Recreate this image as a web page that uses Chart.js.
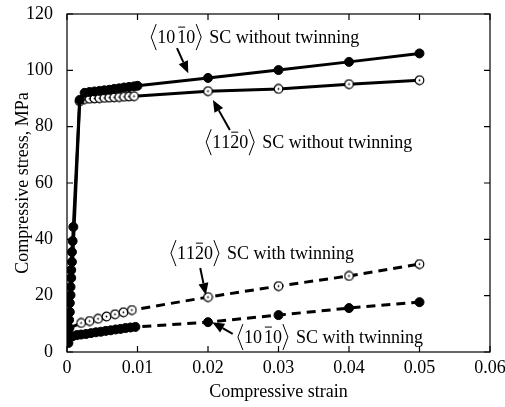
<!DOCTYPE html>
<html>
<head>
<meta charset="utf-8">
<script src="https://cdn.jsdelivr.net/npm/chart.js"></script>
<style>body{margin:0;background:#fff}</style>
</head>
<body>
<canvas id="stressChart" width="505" height="407"></canvas>
<script>
// <10-10> single crystal without twinning (filled circles)
let strainA = [0.0002,0.0002,0.0003,0.0003,0.0004,0.0004,0.0005,0.0005,0.0006,0.0006,0.0007,0.0007,0.0008,0.0009,
  0.0018,0.0025,0.0032,0.0039,0.0046,0.0053,0.006,0.0067,0.0074,0.0081,0.0088,0.0095,0.01,0.02,0.03,0.04,0.05]
let stressA = [3.2,5.3,8.5,11.4,14.2,17.4,20.2,23.1,26.3,29.1,32,35.5,39.4,44.4,
  89.5,92,92.3,92.5,92.7,92.9,93.1,93.4,93.6,93.9,94.1,94.3,94.5,97.3,100.1,103,106]

// <11-20> single crystal without twinning (open circles)
let strainB = [0.0003,0.0018,0.0025,0.0032,0.0039,0.0046,0.0053,0.006,0.0067,0.0074,0.0081,0.0088,0.0095,0.02,0.03,0.04,0.05]
let stressB = [4,89,89.8,89.9,90,90.1,90.2,90.3,90.4,90.5,90.6,90.7,90.8,92.6,93.4,95.1,96.5]

// <11-20> single crystal with twinning (open circles, dashed)
let strainC = [0.0003,0.002,0.0032,0.0044,0.0056,0.0068,0.008,0.0092,0.02,0.03,0.04,0.05]
let stressC = [8.5,10.3,11,11.8,12.6,13.4,14.1,14.9,19.5,23.4,27,31.2]

// <10-10> single crystal with twinning (filled circles, dashed)
let strainD = [0.0002,0.0008,0.0014,0.002,0.0027,0.0034,0.0041,0.0048,0.0055,0.0062,0.0069,0.0076,0.0083,0.009,0.0097,0.02,0.03,0.04,0.05]
let stressD = [5,5.6,6,6.2,6.4,6.7,7,7.2,7.5,7.7,8,8.2,8.5,8.7,8.9,10.6,13.1,15.6,17.7]

let xTicks = [0,0.01,0.02,0.03,0.04,0.05,0.06]
let yTicks = [0,20,40,60,80,100,120]

const serif = '"Liberation Serif", "Times New Roman", serif'

function toPoints(xs, ys) {
  return xs.map((v, i) => ({x: v, y: ys[i]}))
}

// labels: '-1' means a digit with a bar over it
const notes = [
  {at: [0.0118, 111.8], hkl: ['1','0',' ','-1','0'], text: 'SC without twinning', tail: [0.0156,107.9], head: [0.0172,99]},
  {at: [0.0196, 74.5], hkl: ['1','1','-2','0'], text: 'SC without twinning', tail: [0.0231,78.8], head: [0.0207,89.5]},
  {at: [0.0146, 35.1], hkl: ['1','1','-2','0'], text: 'SC with twinning', tail: [0.0189,29.8], head: [0.0197,20.2]},
  {at: [0.0241, 5.3], hkl: ['1','0',' ','-1','0'], text: 'SC with twinning', tail: [0.0235,6.4], head: [0.0206,10.6]}
]

// open circle with a small dot in the middle
function ringMarker() {
  const c = document.createElement('canvas')
  c.width = 11; c.height = 11
  const g = c.getContext('2d')
  g.fillStyle = '#fff'
  g.strokeStyle = '#000'
  g.lineWidth = 1.2
  g.beginPath(); g.arc(5.5, 5.5, 4.3, 0, Math.PI * 2); g.fill(); g.stroke()
  g.fillStyle = '#000'
  g.beginPath(); g.arc(5.5, 5.5, 0.9, 0, Math.PI * 2); g.fill()
  return c
}
const ring = ringMarker()

function bracket(ctx, x, mid, left) {
  ctx.beginPath()
  if (left) {
    ctx.moveTo(x + 6, mid - 13); ctx.lineTo(x + 1, mid); ctx.lineTo(x + 6, mid + 13)
  } else {
    ctx.moveTo(x, mid - 13); ctx.lineTo(x + 5, mid); ctx.lineTo(x, mid + 13)
  }
  ctx.stroke()
}

function arrow(ctx, x1, y1, x2, y2) {
  const ang = Math.atan2(y2 - y1, x2 - x1)
  const len = 12, half = 5
  const bx = x2 - Math.cos(ang) * len, by = y2 - Math.sin(ang) * len
  ctx.beginPath()
  ctx.lineWidth = 2
  ctx.moveTo(x1, y1); ctx.lineTo(bx, by)
  ctx.stroke()
  ctx.beginPath()
  ctx.moveTo(x2, y2)
  ctx.lineTo(bx + Math.sin(ang) * half, by - Math.cos(ang) * half)
  ctx.lineTo(bx - Math.sin(ang) * half, by + Math.cos(ang) * half)
  ctx.closePath()
  ctx.fill()
}

const framePlugin = {
  id: 'frame',
  beforeDatasetsDraw(chart) {
    const {ctx, chartArea: a, scales: {x, y}} = chart
    ctx.save()
    ctx.strokeStyle = '#000'
    ctx.lineWidth = 1.2
    ctx.strokeRect(a.left, a.top, a.right - a.left, a.bottom - a.top)
    ctx.beginPath()
    x.ticks.forEach(t => {
      const px = x.getPixelForValue(t.value)
      ctx.moveTo(px, a.bottom); ctx.lineTo(px, a.bottom - 6)
      ctx.moveTo(px, a.top); ctx.lineTo(px, a.top + 6)
    })
    y.ticks.forEach(t => {
      const py = y.getPixelForValue(t.value)
      ctx.moveTo(a.left, py); ctx.lineTo(a.left + 6, py)
      ctx.moveTo(a.right, py); ctx.lineTo(a.right - 6, py)
    })
    ctx.stroke()
    ctx.restore()
  },
  afterDatasetsDraw(chart) {
    const {ctx, scales: {x, y}} = chart
    ctx.save()
    ctx.fillStyle = '#000'
    ctx.strokeStyle = '#000'
    ctx.font = '18px ' + serif
    ctx.textBaseline = 'alphabetic'
    notes.forEach(n => {
      let cx = x.getPixelForValue(n.at[0])
      const mid = y.getPixelForValue(n.at[1])
      const base = mid + 6
      ctx.lineWidth = 1
      bracket(ctx, cx, mid, true)
      cx += 7
      n.hkl.forEach(tok => {
        if (tok === ' ') { cx += 2; return }
        const ch = tok.replace('-', '')
        ctx.fillText(ch, cx, base)
        const w = ctx.measureText(ch).width
        if (tok[0] === '-') {
          ctx.beginPath()
          ctx.lineWidth = 1
          ctx.moveTo(cx + 1, base - 16); ctx.lineTo(cx + w - 1, base - 16)
          ctx.stroke()
        }
        cx += w
      })
      cx += 1
      ctx.lineWidth = 1
      bracket(ctx, cx, mid, false)
      cx += 13
      ctx.fillText(n.text, cx, base)
      arrow(ctx, x.getPixelForValue(n.tail[0]), y.getPixelForValue(n.tail[1]),
        x.getPixelForValue(n.head[0]), y.getPixelForValue(n.head[1]))
    })
    ctx.restore()
  }
}

const filled = {pointStyle: 'circle', pointBackgroundColor: '#000', pointBorderColor: '#000', pointBorderWidth: 1}
const open = {pointStyle: ring}

const data = {
  datasets: [
    Object.assign({data: toPoints(strainA, stressA), showLine: true, borderColor: '#000', borderWidth: 3, pointRadius: 4.5}, filled),
    Object.assign({data: toPoints(strainD, stressD), showLine: true, borderColor: '#000', borderWidth: 3, borderDash: [9, 6], pointRadius: 4.5}, filled),
    Object.assign({data: toPoints(strainB, stressB), showLine: true, borderColor: '#000', borderWidth: 3,
      pointRadius: c => c.dataIndex === 0 ? 0 : 4}, open),
    Object.assign({data: toPoints(strainC, stressC), showLine: true, borderColor: '#000', borderWidth: 3, borderDash: [9, 6], pointRadius: 4}, open)
  ]
}

const config = {
  type: 'scatter',
  data: data,
  options: {
    responsive: false,
    animation: false,
    layout: {padding: {top: 14, right: 15, left: 0, bottom: 0}},
    plugins: {legend: {display: false}, tooltip: {enabled: false}},
    scales: {
      x: {
        type: 'linear', min: 0, max: 0.06,
        afterBuildTicks: s => { s.ticks = xTicks.map(v => ({value: v})) },
        afterFit: s => { s.height = 55; s.paddingLeft = 0; s.paddingRight = 0 },
        grid: {display: false, drawTicks: false},
        border: {display: false},
        ticks: {color: '#000', padding: 5, font: {family: serif, size: 18}, maxRotation: 0,
          callback: v => String(v)},
        title: {display: true, text: 'Compressive strain', color: '#000', font: {family: serif, size: 18}, padding: {top: 4, bottom: 4}}
      },
      y: {
        type: 'linear', min: 0, max: 120,
        afterBuildTicks: s => { s.ticks = yTicks.map(v => ({value: v})) },
        afterFit: s => { s.width = 67; s.paddingTop = 0; s.paddingBottom = 0 },
        grid: {display: false, drawTicks: false},
        border: {display: false},
        ticks: {color: '#000', padding: 14, font: {family: serif, size: 18}},
        title: {display: true, text: 'Compressive stress, MPa', color: '#000', font: {family: serif, size: 18}, padding: {top: 12, bottom: 4}}
      }
    }
  },
  plugins: [framePlugin]
}

var stressChart = new Chart(document.getElementById('stressChart'), config)
</script>
</body>
</html>
